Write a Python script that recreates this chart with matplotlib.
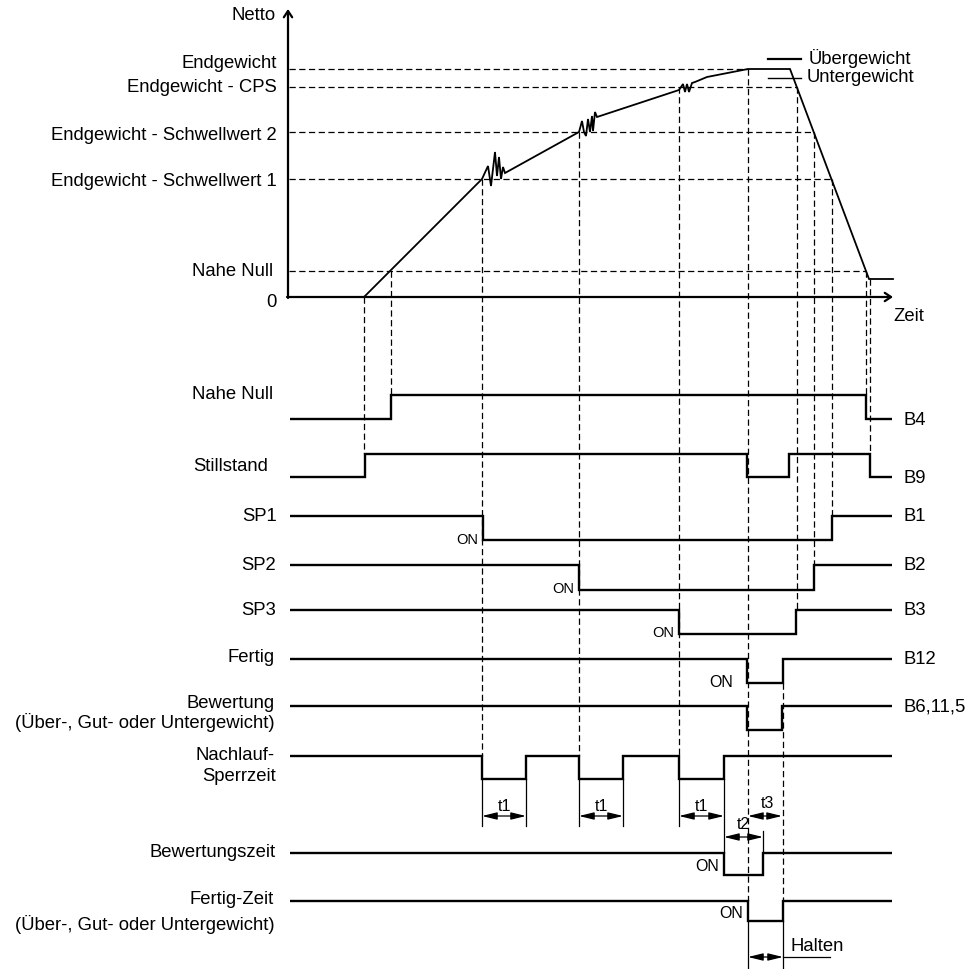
import matplotlib
matplotlib.use('Agg')
import matplotlib.pyplot as plt

plt.rcParams['font.family'] = ['Liberation Sans', 'DejaVu Sans']
plt.rcParams['lines.scale_dashes'] = False

# --- data (time axis and levels) ----------------------------------------------
# weight levels in the upper chart
level_names = ['Endgewicht', 'Endgewicht - CPS', 'Endgewicht - Schwellwert 2',
               'Endgewicht - Schwellwert 1', 'Nahe Null', '0']
level_y = [70, 88, 133, 180, 272, 298]
level_end_t = [748, 797, 814, 832, 866, None]   # where the dashed guide stops

# net weight curve (time, level), incl. the settling wiggles at each cutoff
curve_t = [364, 482, 488, 491, 495, 497, 499, 501, 503, 505,
           579, 582, 584, 586, 588, 590, 592, 593, 595, 597,
           679, 683, 685, 687, 689, 692, 695, 707, 748, 790, 869, 893]
curve_y = [298, 180, 167, 187, 153, 177, 158, 180, 168, 174,
           133, 122, 133, 137, 120, 133, 117, 132, 113, 118,
           91, 85, 93, 85, 93, 84, 83, 78, 70, 70, 280, 280]

# digital signals: name, high row, low row, starting state, edge times, tag
sig_names = ['Nahe Null', 'Stillstand', 'SP1', 'SP2', 'SP3', 'Fertig',
             'Bewertung', 'Nachlauf-', 'Bewertungszeit', 'Fertig-Zeit']
sig_high = [396, 455, 517, 566, 611, 660, 707, 757, 854, 902]
sig_low = [420, 478, 541, 591, 635, 684, 731, 780, 876, 922]
sig_start = [0, 0, 1, 1, 1, 1, 1, 1, 1, 1]
sig_edges = [[391, 866], [365, 747, 789, 870], [483, 832], [579, 814],
             [679, 796], [747, 783], [747, 782],
             [482, 526, 579, 623, 679, 724], [724, 763], [748, 783]]
sig_tags = ['B4', 'B9', 'B1', 'B2', 'B3', 'B12', 'B6,11,5', '', '', '']
sig_on = [None, None, 483, 579, 679, 747, None, None, 724, 748]

# dashed guides from the curve down to the signal edges
guide_t = [364, 391, 482, 579, 679, 748, 797, 814, 832, 866, 870, 783]
guide_top = [298, 272, 180, 133, 88, 70, 88, 133, 180, 272, 280, 684]
guide_bot = [455, 396, 757, 757, 757, 902, 611, 566, 517, 396, 455, 902]

# timing dimensions: start, end, row, label
dim_t0 = [482, 579, 679, 724, 748, 748]
dim_t1 = [526, 623, 724, 763, 782, 783]
dim_row = [817, 817, 817, 838, 817, 958]
dim_text = ['t1', 't1', 't1', 't2', 't3', 'Halten']

T0, T_END = 290, 892

fig = plt.figure(figsize=(9.72, 9.70), dpi=100)
ax = fig.add_axes([0, 0, 1, 1])
ax.set_xlim(0, 972)
ax.set_ylim(970, 0)
ax.axis('off')

FS = 13.3
dash = dict(color='k', lw=0.9, dashes=(4.5, 2.5))

# axes of the weight chart
ax.annotate('', xy=(288, 10), xytext=(288, 299),
            arrowprops=dict(arrowstyle='->,head_length=0.45,head_width=0.3',
                            lw=1.6, color='k', shrinkA=0, shrinkB=0))
ax.annotate('', xy=(893, 298), xytext=(287, 298),
            arrowprops=dict(arrowstyle='->,head_length=0.45,head_width=0.3',
                            lw=1.6, color='k', shrinkA=0, shrinkB=0))
ax.text(276, 16, 'Netto', ha='right', va='center', fontsize=FS)
ax.text(893, 317, 'Zeit', ha='left', va='center', fontsize=FS)

label_y = [64, 88, 135, 181, 272, 303]
for name, y, ly, te in zip(level_names, level_y, label_y, level_end_t):
    ax.text(277 if name != 'Nahe Null' else 273, ly, name,
            ha='right', va='center', fontsize=FS)
    if te is not None:
        ax.plot([289, te], [y, y], **dash)

ax.plot(curve_t, curve_y, color='k', lw=1.3, solid_joinstyle='miter')

# over / under weight marks
ax.plot([768, 801], [60, 60], color='k', lw=1.6)
ax.plot([768, 801], [79, 79], color='k', lw=1.0)
ax.text(809, 59, 'Übergewicht', ha='left', va='center', fontsize=FS)
ax.text(807, 78, 'Untergewicht', ha='left', va='center', fontsize=FS)

for t, y0, y1 in zip(guide_t, guide_top, guide_bot):
    ax.plot([t, t], [y0, y1], **dash)

# where the little "ON" marks sit: gap left of the edge, offset above low row
on_gap = {2: 5, 3: 5, 4: 5, 5: 14, 8: 5, 9: 5}
on_lift = {2: 1, 3: 2, 4: 2, 5: 1, 8: 9, 9: 8}

# signals
for i, name in enumerate(sig_names):
    state = sig_start[i]
    rows = (sig_low[i], sig_high[i])
    xs, ys = [T0], [rows[state]]
    for e in sig_edges[i]:
        xs += [e, e]
        ys += [rows[state], rows[1 - state]]
        state = 1 - state
    xs.append(T_END)
    ys.append(rows[state])
    ax.plot(xs, ys, color='k', lw=1.7, solid_joinstyle='miter',
            solid_capstyle='butt')
    if sig_tags[i]:
        ax.text(903, rows[state] + (1 if i < 2 else 0), sig_tags[i],
                ha='left', va='center', fontsize=FS)
    if sig_on[i] is not None:
        small = i in (2, 3, 4)
        ax.text(sig_on[i] - on_gap[i], sig_low[i] - on_lift[i], 'ON',
                ha='right', va='center', fontsize=10.5 if small else 11.5)

left_labels = [('Nahe Null', 273, 395), ('Stillstand', 268, 467),
               ('SP1', 277, 517), ('SP2', 276, 566), ('SP3', 276, 611),
               ('Fertig', 275, 658), ('Bewertung', 275, 704),
               ('(Über-, Gut- oder Untergewicht)', 275, 723),
               ('Nachlauf-', 275, 756), ('Sperrzeit', 276, 777),
               ('Bewertungszeit', 276, 853), ('Fertig-Zeit', 274, 900),
               ('(Über-, Gut- oder Untergewicht)', 275, 925)]
for txt, x, y in left_labels:
    ax.text(x, y, txt, ha='right', va='center', fontsize=FS)

# extension lines for the timing dimensions
for t in [482, 526, 579, 623, 679]:
    ax.plot([t, t], [780, 827], color='k', lw=0.9)
ax.plot([724, 724], [780, 854], color='k', lw=0.9)
ax.plot([763, 763], [832, 854], color='k', lw=0.9)
ax.plot([748, 748], [922, 970], color='k', lw=0.9)
ax.plot([783, 783], [922, 970], color='k', lw=0.9)
ax.plot([783, 830], [958, 958], color='k', lw=0.9)

for t0, t1, row, txt in zip(dim_t0, dim_t1, dim_row, dim_text):
    ax.annotate('', xy=(t1, row), xytext=(t0, row),
                arrowprops=dict(arrowstyle='<|-|>,head_length=0.9,head_width=0.22',
                                lw=0.9, color='k', shrinkA=0, shrinkB=0))
    if txt == 'Halten':
        ax.text(790, 947, txt, ha='left', va='center', fontsize=FS)
    elif txt == 't2':
        ax.text(743, 825, txt, ha='center', va='center', fontsize=11.5)
    elif txt == 't3':
        ax.text(767, 804, txt, ha='center', va='center', fontsize=11.5)
    else:
        ax.text((t0 + t1) / 2, 807, txt, ha='center', va='center', fontsize=11.5)

fig.savefig('out.png', dpi=100)
